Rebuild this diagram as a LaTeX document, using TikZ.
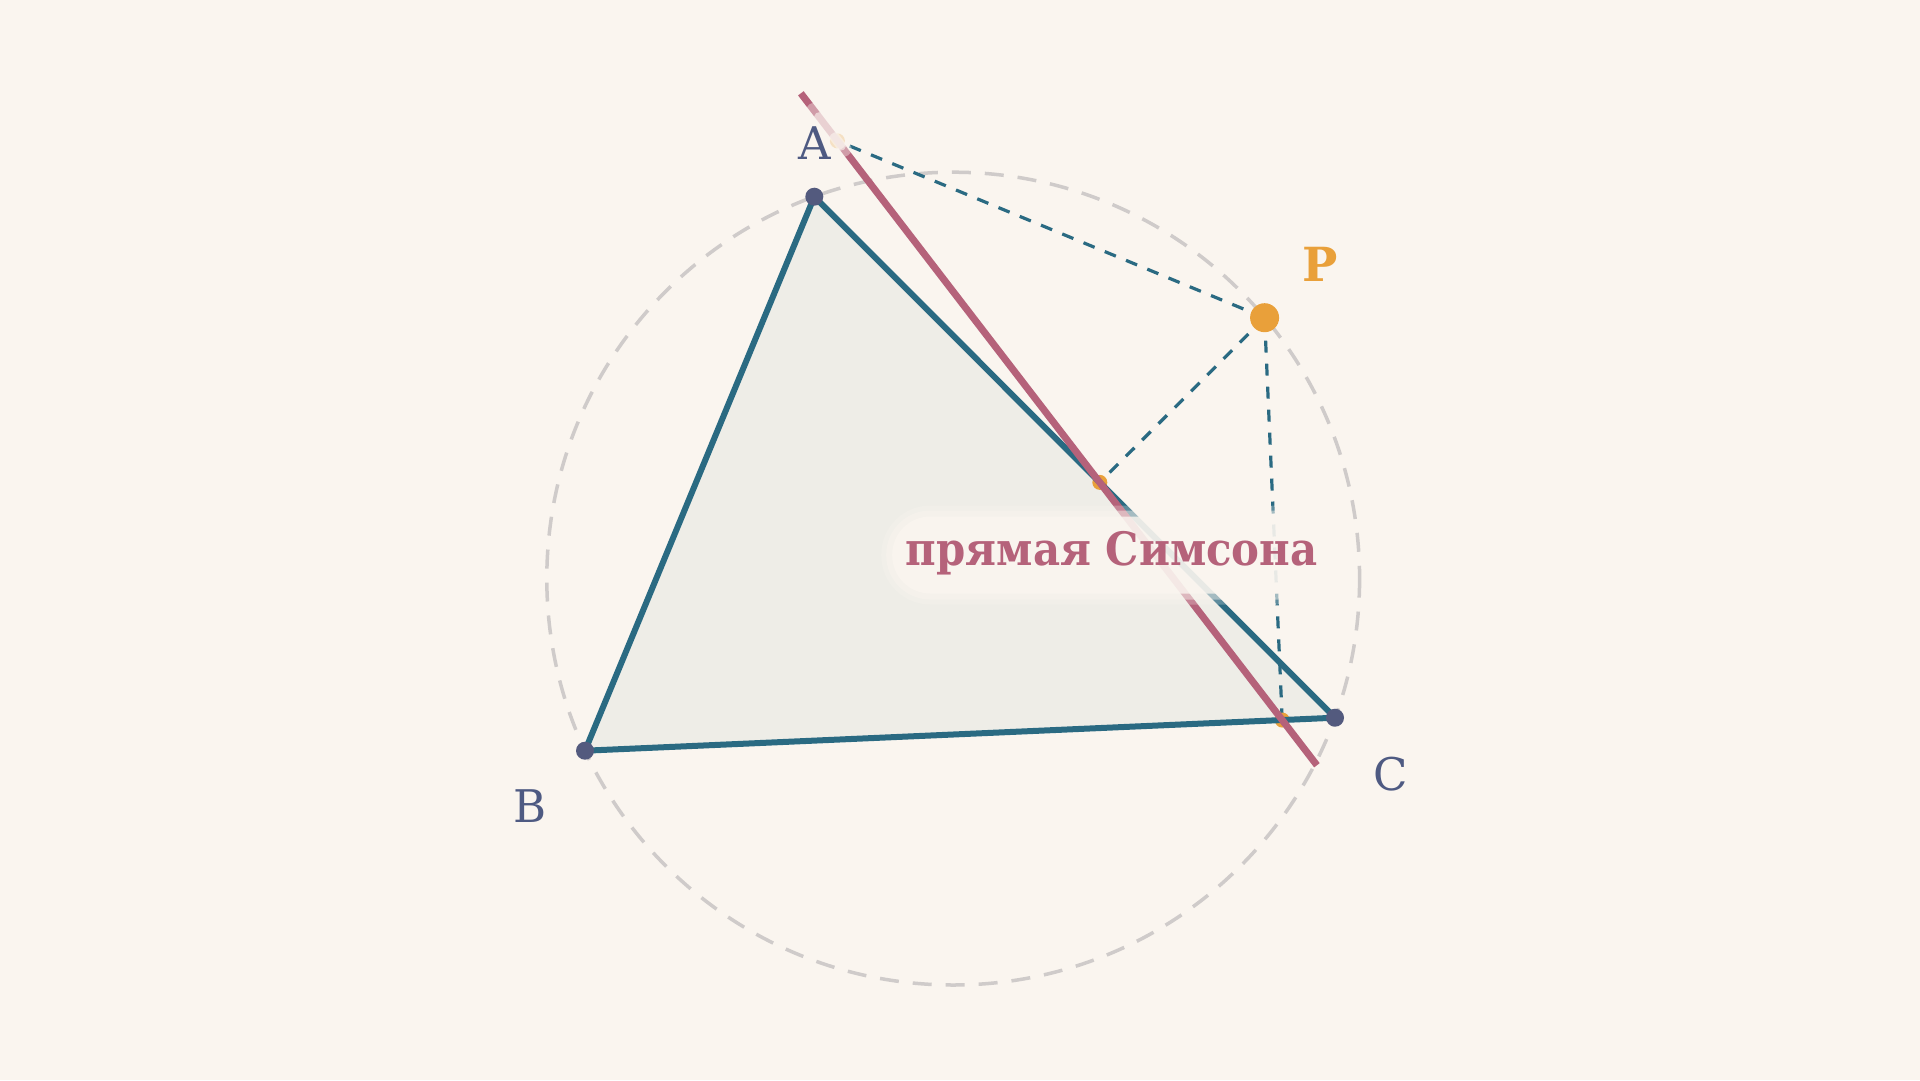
\documentclass[tikz,border=0pt]{standalone}
\usepackage{fontspec}
\usepackage{graphicx}
\setmainfont{DejaVu Serif}
\usetikzlibrary{calc}
\definecolor{bg}{HTML}{FAF5EF}
\definecolor{trifill}{HTML}{EEEDE7}
\definecolor{edge}{HTML}{2A6A82}
\definecolor{simson}{HTML}{B5627A}
\definecolor{porange}{HTML}{E9A03A}
\definecolor{vdot}{HTML}{535A7E}
\definecolor{vlabel}{HTML}{4E5A82}
\definecolor{circgray}{HTML}{CFCBCA}
\tikzset{
  circdash/.style={draw=circgray, line width=3.5pt, dash pattern=on 19pt off 14pt},
  perpdash/.style={draw=edge, line width=3.2pt, dash pattern=on 12pt off 11pt},
  edgeline/.style={draw=edge, line width=6pt, line join=round},
  simsonline/.style={draw=simson, line width=7pt},
  vertexdot/.style={circle, fill=vdot, inner sep=0pt, minimum size=18pt},
  footdot/.style={circle, fill=porange, inner sep=0pt, minimum size=15pt},
  pdot/.style={circle, fill=porange, inner sep=0pt, minimum size=29pt},
  vlab/.style={text=vlabel, font=\fontsize{45}{50}\selectfont, inner sep=0pt, anchor=base},
  plab/.style={text=porange, font=\bfseries\fontsize{47}{50}\selectfont, inner sep=0pt, anchor=base},
  pill/.style={fill=bg, rounded corners=40pt, inner sep=0pt},
  simlab/.style={text=simson, font=\bfseries\fontsize{46}{50}\selectfont, inner sep=0pt, anchor=base},
}
\begin{document}
\begin{tikzpicture}[x=1pt,y=-1pt]
\fill[bg] (0,0) rectangle (1920,1080);
\useasboundingbox (0,0) rectangle (1920,1080);
% points
\coordinate (A) at (814.3,196.7);
\coordinate (B) at (585,750.7);
\coordinate (C) at (1335,717.7);
\coordinate (P) at (1264.6,317.7);
\coordinate (O) at (953.2,578.6);
\coordinate (Fab) at ($(A)!(P)!(B)$);
\coordinate (Fac) at ($(A)!(P)!(C)$);
\coordinate (Fbc) at ($(B)!(P)!(C)$);
\coordinate (S1) at ($(Fab)!-60pt!(Fbc)$);
\coordinate (S2) at ($(Fbc)!-57pt!(Fab)$);
% triangle fill
\fill[trifill] (A) -- (B) -- (C) -- cycle;
% circumcircle
\draw[circdash] (O) circle[radius=406.4];
% perpendiculars
\draw[perpdash] (P) -- (Fab);
\draw[perpdash] (P) -- (Fac);
\draw[perpdash] (P) -- (Fbc);
% feet
\node[footdot] (fab) at (Fab) {};
\node[footdot] (fac) at (Fac) {};
\node[footdot] (fbc) at (Fbc) {};
% triangle edges
\draw[edgeline] (A) -- (B) -- (C) -- cycle;
% Simson line
\draw[simsonline] (S1) -- (S2);
% haze near the foot on AB
\draw[draw=bg, line width=16pt, line cap=round, opacity=0.4] ($(Fab)!-38pt!(Fbc)$) -- ($(Fab)!10pt!(Fbc)$);
\draw[draw=bg, line width=10pt, line cap=round, opacity=0.6] ($(Fab)!-30pt!(Fbc)$) -- ($(Fab)!6pt!(Fbc)$);
\fill[bg, opacity=0.6] (Fab) circle[radius=9];
% vertex dots
\node[vertexdot] (a) at (A) {};
\node[vertexdot] (b) at (B) {};
\node[vertexdot] (c) at (C) {};
\node[pdot] (p) at (P) {};
% labels
\node[vlab] (la) at (814.5,159.3) {A};
\node[vlab] (lb) at (530.5,822) {B};
\node[vlab] (lc) at (1390.5,790) {C};
\node[plab] (lp) at (1320,281.7) {P};
% Simson label with soft pill
\node[pill, fill opacity=0.25, minimum width=461pt, minimum height=99pt, rounded corners=49pt] (pillc) at (1111.7,555) {};
\node[pill, fill opacity=0.45, minimum width=451pt, minimum height=89pt, rounded corners=44pt] (pillb) at (1111.7,555) {};
\node[pill, fill opacity=0.8, minimum width=439pt, minimum height=77pt, rounded corners=38pt] (pilla) at (1111.7,555) {};
\node[simlab] (sl) at (1111.7,565) {\scalebox{0.91}[1]{прямая Симсона}};
\end{tikzpicture}
\end{document}
